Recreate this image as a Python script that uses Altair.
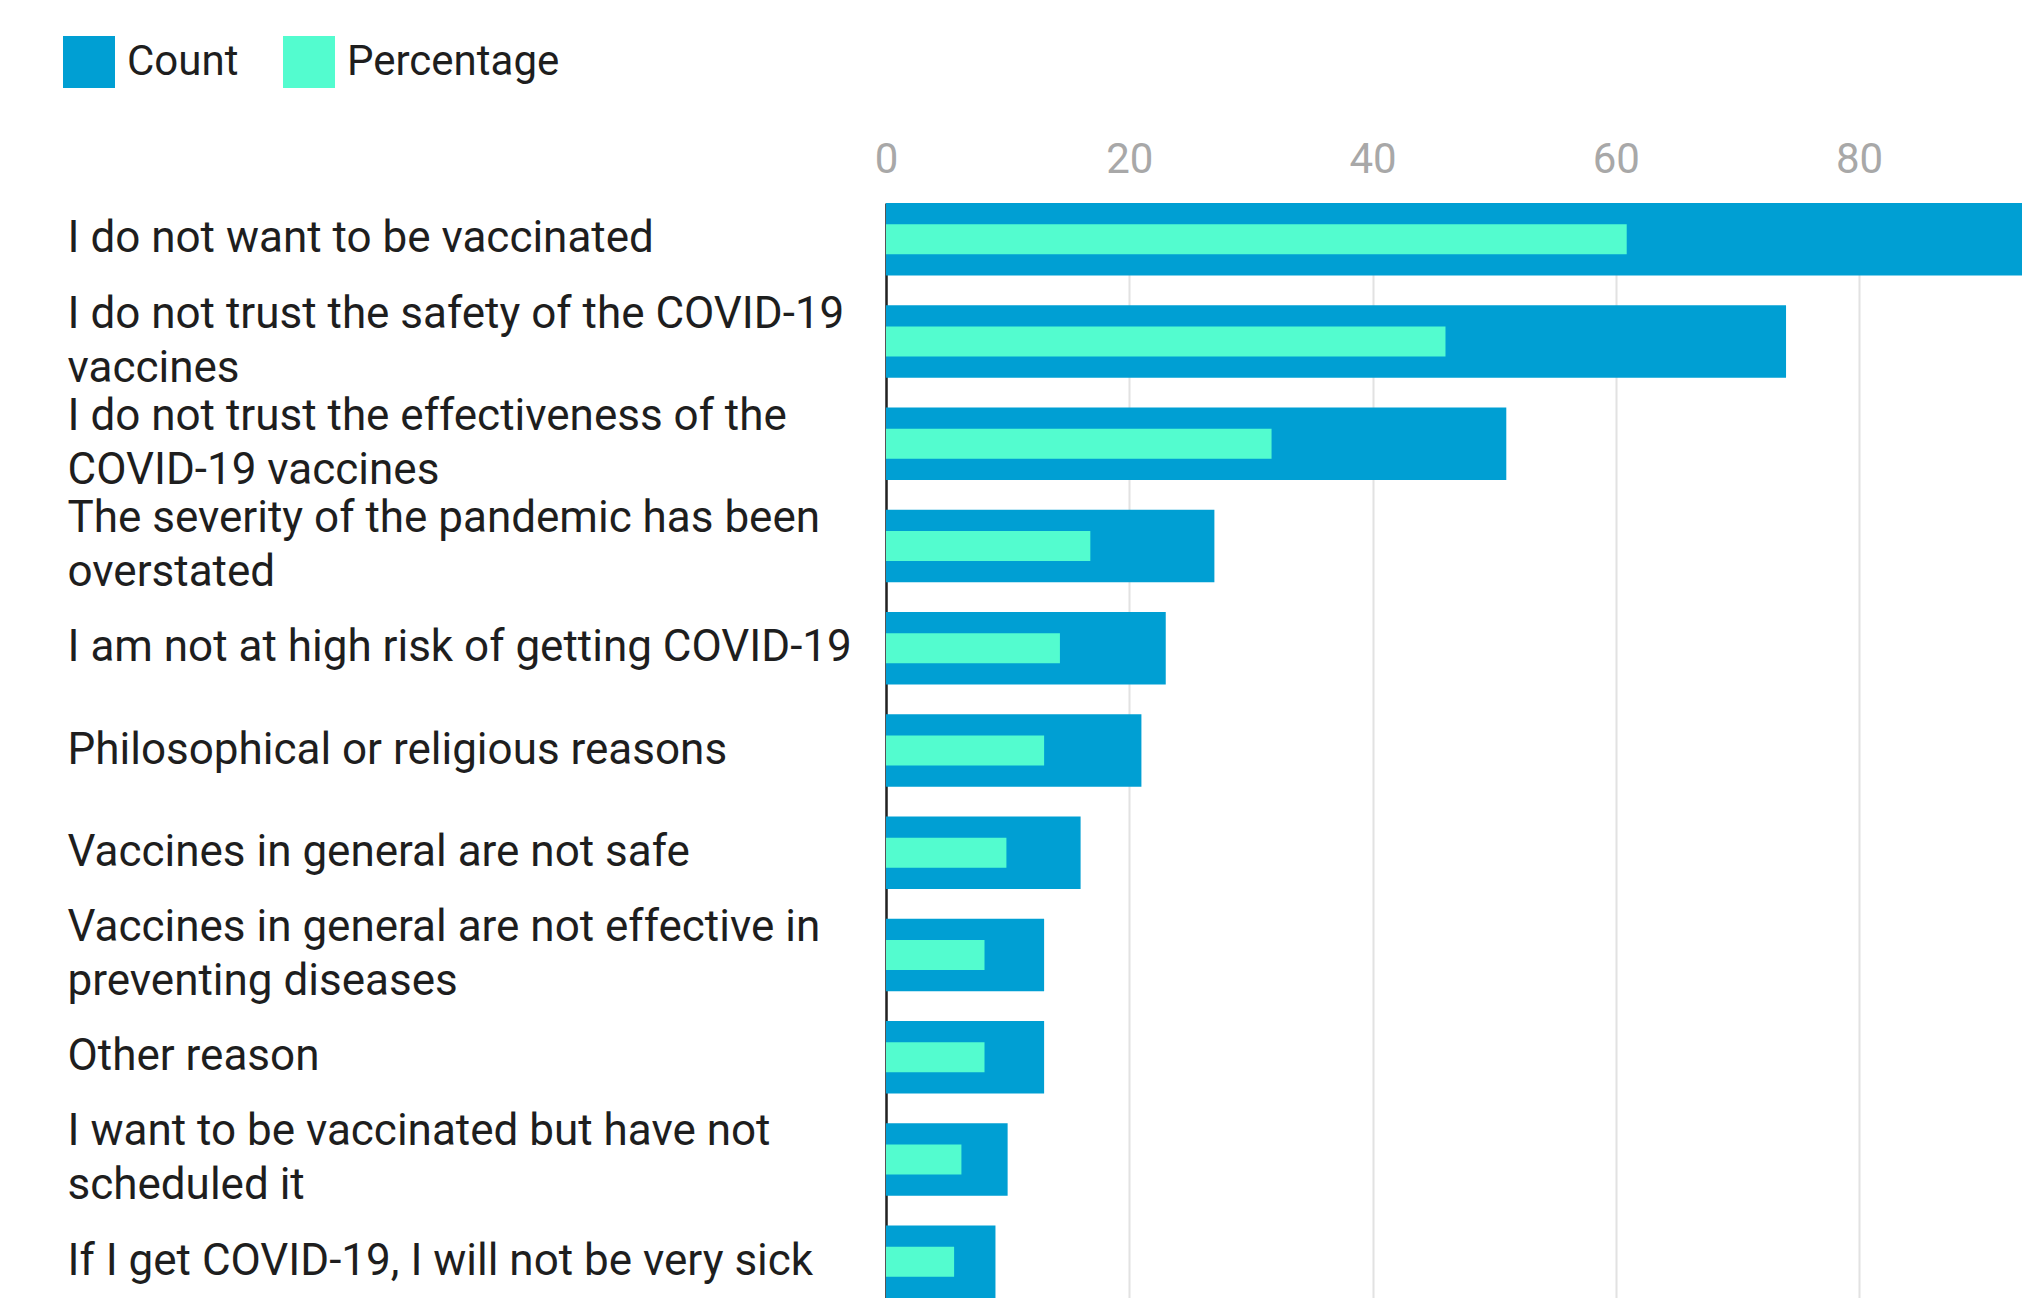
import altair as alt
import pandas as pd

reasons = [
    "I do not want to be vaccinated",
    "I do not trust the safety of the COVID-19|vaccines",
    "I do not trust the effectiveness of the|COVID-19 vaccines",
    "The severity of the pandemic has been|overstated",
    "I am not at high risk of getting COVID-19",
    "Philosophical or religious reasons",
    "Vaccines in general are not safe",
    "Vaccines in general are not effective in|preventing diseases",
    "Other reason",
    "I want to be vaccinated but have not|scheduled it",
    "If I get COVID-19, I will not be very sick",
]
counts = [98, 74, 51, 27, 23, 21, 16, 13, 13, 10, 9]
percentages = [60.9, 46.0, 31.7, 16.8, 14.3, 13.0, 9.9, 8.1, 8.1, 6.2, 5.6]
series_names = ["Count", "Percentage"]
series_colors = ["#009fd3", "#53fccf"]
x_ticks = [0, 20, 40, 60, 80]

rows = []
for r, c, p in zip(reasons, counts, percentages):
    rows.append({"reason": r, "series": "Count", "value": c})
    rows.append({"reason": r, "series": "Percentage", "value": p})
df = pd.DataFrame(rows)

FONT = "Roboto"

y_enc = alt.Y(
    "reason:N",
    sort=reasons,
    title=None,
    scale=alt.Scale(paddingInner=0.29, paddingOuter=0),
    axis=alt.Axis(
        labelAlign="left",
        labelPadding=819,
        labelLimit=900,
        labelFontSize=44,
        labelFont=FONT,
        labelColor="#1e1e1e",
        labelLineHeight=54,
        labelExpr="split(datum.label, '|')",
        labelOffset=alt.ExprRef("indexof(datum.value, '|') >= 0 ? -27 : 0"),
        ticks=False,
        tickSize=0,
        domain=True,
        domainColor="#222222",
        domainWidth=2.5,
        grid=False,
    ),
)

x_enc = alt.X(
    "value:Q",
    title=None,
    scale=alt.Scale(domain=[0, 93.4], nice=False, zero=True),
    axis=alt.Axis(
        orient="top",
        values=x_ticks,
        labelFontSize=42,
        labelFont=FONT,
        labelColor="#a8a8a8",
        labelPadding=31,
        labelBaseline="alphabetic",
        labelFlush=False,
        ticks=False,
        tickSize=0,
        domain=False,
        grid=True,
        gridColor="#e2e2e2",
        gridWidth=2,
    ),
)

color_enc = alt.Color(
    "series:N",
    scale=alt.Scale(domain=series_names, range=series_colors),
    legend=alt.Legend(
        title=None,
        orient="none",
        legendX=-823,
        legendY=-167,
        direction="horizontal",
        symbolType="square",
        symbolSize=2704,
        symbolStrokeWidth=0,
        symbolOpacity=1,
        labelFontSize=42,
        labelFont=FONT,
        labelColor="#1e1e1e",
        labelLimit=500,
        labelOffset=12,
        columnPadding=44,
        padding=0,
    ),
)

count_layer = (
    alt.Chart(df)
    .transform_filter(alt.datum.series == "Count")
    .mark_bar(clip=True)
    .encode(x=x_enc, y=y_enc, color=color_enc)
)

pct_layer = (
    alt.Chart(df)
    .transform_filter(alt.datum.series == "Percentage")
    .mark_bar(clip=True, size=30)
    .encode(x=x_enc, y=y_enc, color=color_enc)
)

chart = (
    alt.layer(count_layer, pct_layer)
    .properties(
        width=1136,
        height=1095,
        autosize=alt.AutoSizeParams(type="none"),
        padding={"left": 878, "top": 195, "right": 0, "bottom": 0},
    )
    .configure_view(stroke=None)
    .configure(background="white")
)

chart.save("out.html", embed_options={"renderer": "svg", "actions": False})
